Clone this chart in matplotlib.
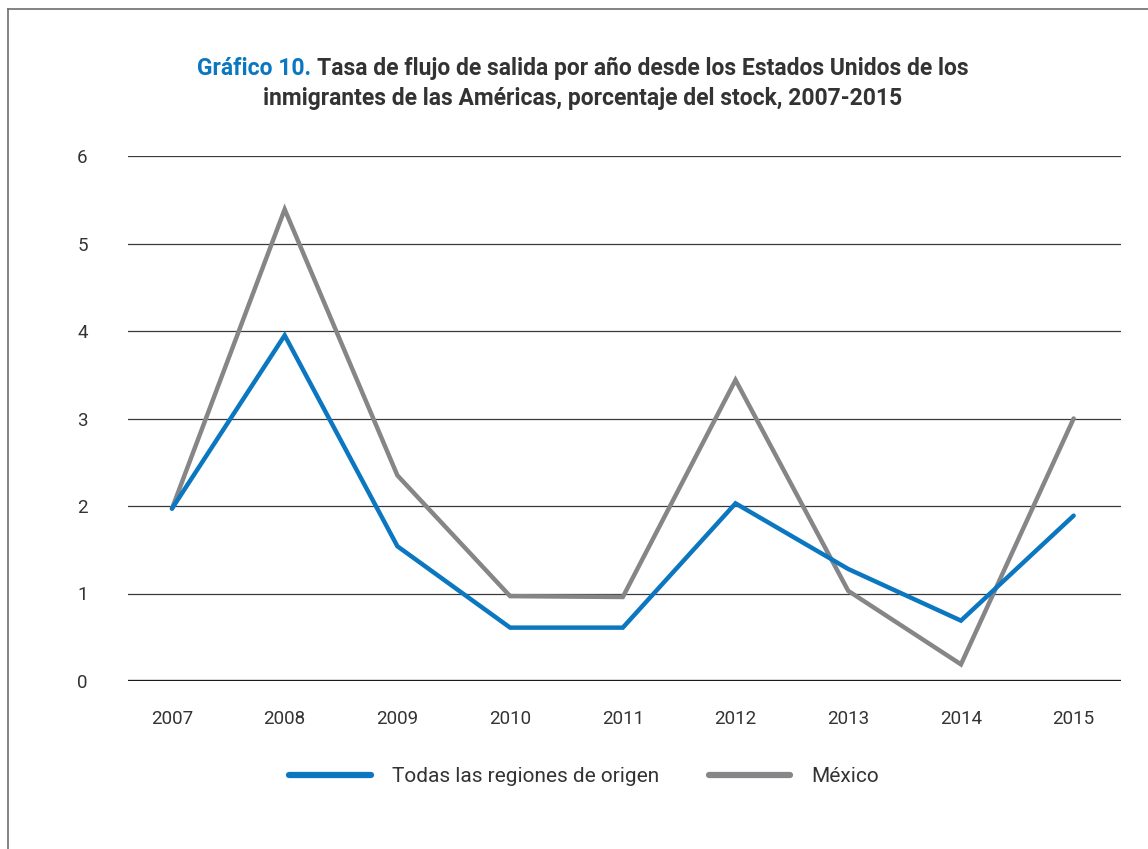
import matplotlib
matplotlib.use("Agg")
import matplotlib.pyplot as plt
from matplotlib.lines import Line2D
from matplotlib.offsetbox import TextArea, HPacker, AnchoredOffsetbox

plt.rcParams['font.family'] = ['Roboto', 'DejaVu Sans']

years = [2007, 2008, 2009, 2010, 2011, 2012, 2013, 2014, 2015]
todas = [1.97, 3.95, 1.54, 0.61, 0.61, 2.03, 1.28, 0.69, 1.89]
mexico = [1.97, 5.39, 2.35, 0.97, 0.96, 3.44, 1.03, 0.19, 3.00]
series_names = ["Todas las regiones de origen", "México"]
yticks = [0, 1, 2, 3, 4, 5, 6]

blue = "#0a77c0"
gray = "#868688"
txt = "#333333"

fig = plt.figure(figsize=(11.48, 8.49), dpi=100)
ax = fig.add_axes([128/1148, 1-681/849, (1121-128)/1148, (681-156)/849])

# grid first, lines on top
for v in yticks[1:]:
    ax.axhline(v, color="#3a3a3a", lw=0.9, zorder=1)
ax.axhline(0, color="#1a1a1a", lw=2.4, zorder=4)

ax.plot(years, todas, color=blue, lw=3.2, solid_capstyle="round",
        solid_joinstyle="miter", zorder=3, clip_on=False, label=series_names[0])
ax.plot(years, mexico, color=gray, lw=3.2, solid_capstyle="round",
        solid_joinstyle="miter", zorder=2, clip_on=False, label=series_names[1])

ax.set_xlim(2006.61, 2015.42)
ax.set_ylim(0, 6)
ax.set_xticks(years)
ax.set_xticklabels([str(y) for y in years])
ax.set_yticks(yticks)
ax.tick_params(length=0, labelsize=13.5, labelcolor=txt)
ax.tick_params(axis="y", pad=29)
ax.tick_params(axis="x", pad=21)
for s in ax.spines.values():
    s.set_visible(False)

leg = fig.legend(loc="center", bbox_to_anchor=(584/1148, 1-777/849), ncol=2,
                 frameon=False, fontsize=15, handlelength=3.9, handletextpad=1.0,
                 columnspacing=2.4)
for h in leg.get_lines():
    h.set_linewidth(4.5)
for t in leg.get_texts():
    t.set_color(txt)

# title, first part in blue
p1 = TextArea("Gráfico 10.", textprops=dict(color=blue, fontsize=16.5, fontweight="bold"))
p2 = TextArea("Tasa de flujo de salida por año desde los Estados Unidos de los",
              textprops=dict(color=txt, fontsize=16.5, fontweight="bold"))
row = HPacker(children=[p1, p2], pad=0, sep=4, align="baseline")
box = AnchoredOffsetbox(loc="center", child=row, frameon=False, pad=0,
                        bbox_to_anchor=(583/1148, 1-68/849), bbox_transform=fig.transFigure)
fig.add_artist(box)
fig.text(583/1148, 1-98/849, "inmigrantes de las Américas, porcentaje del stock, 2007-2015",
         ha="center", va="center", fontsize=16.5, fontweight="bold", color=txt)

# page frame
fig.add_artist(Line2D([8/1148, 8/1148], [0, 1-9/849], transform=fig.transFigure,
                      color="#6e6e6e", lw=1.2))
fig.add_artist(Line2D([8/1148, 1], [1-9/849, 1-9/849], transform=fig.transFigure,
                      color="#6e6e6e", lw=1.2))

fig.savefig("out.png", dpi=100, facecolor="white")
